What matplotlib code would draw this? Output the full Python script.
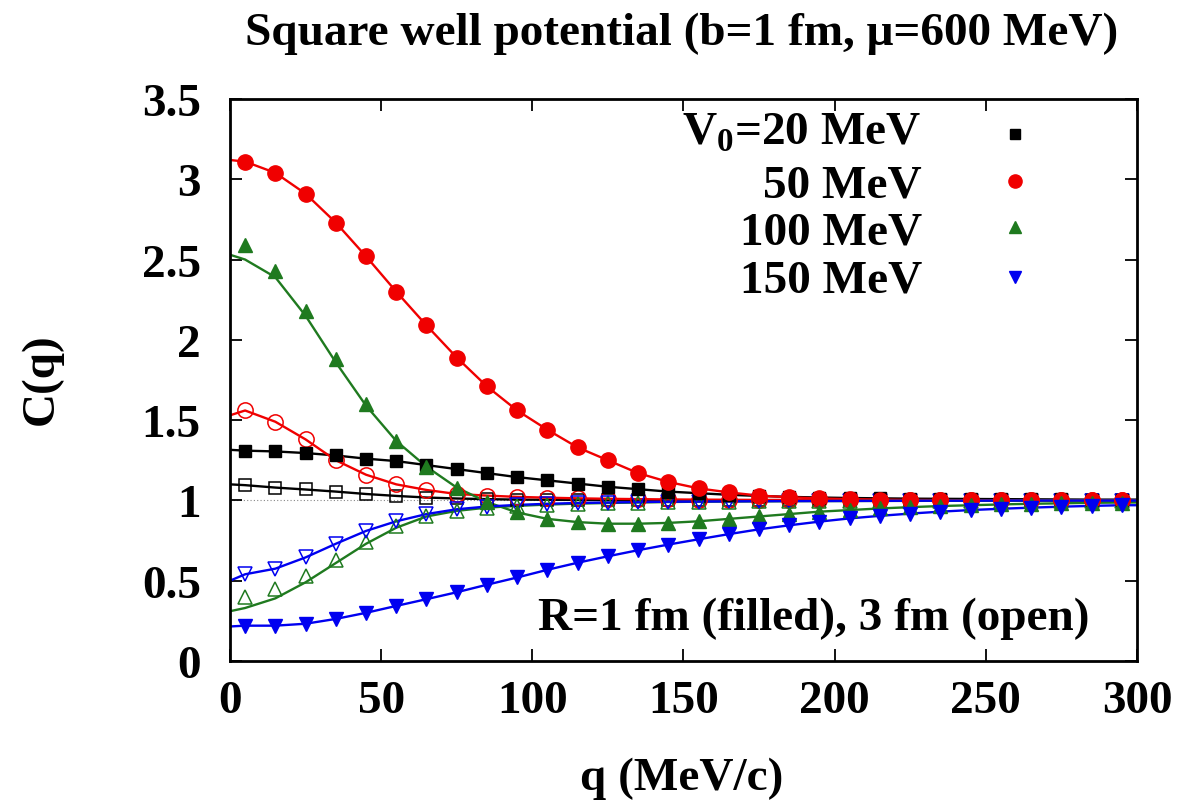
import matplotlib
matplotlib.use("Agg")
import matplotlib.pyplot as plt

# momentum grid of the computed points (MeV/c)
q = [5, 15, 25, 35, 45, 55, 65, 75, 85, 95,
     105, 115, 125, 135, 145, 155, 165, 175, 185, 195,
     205, 215, 225, 235, 245, 255, 265, 275, 285, 295]

# R = 1 fm (filled symbols)
c20_r1 = [1.31, 1.305, 1.295, 1.28, 1.26, 1.245, 1.22, 1.195, 1.17, 1.145,
          1.125, 1.105, 1.085, 1.07, 1.055, 1.045, 1.035, 1.028, 1.022, 1.018,
          1.015, 1.013, 1.011, 1.01, 1.009, 1.008, 1.007, 1.006, 1.005, 1.005]
c50_r1 = [3.11, 3.04, 2.91, 2.73, 2.52, 2.30, 2.09, 1.89, 1.71, 1.56,
          1.44, 1.33, 1.25, 1.17, 1.115, 1.075, 1.05, 1.03, 1.02, 1.012,
          1.008, 1.005, 1.003, 1.002, 1.001, 1.001, 1.0, 1.0, 1.0, 1.0]
c100_r1 = [2.59, 2.43, 2.18, 1.88, 1.60, 1.37, 1.21, 1.08, 0.99, 0.925,
           0.885, 0.865, 0.855, 0.855, 0.86, 0.87, 0.885, 0.90, 0.915, 0.93,
           0.94, 0.95, 0.958, 0.965, 0.97, 0.975, 0.979, 0.982, 0.985, 0.987]
c150_r1 = [0.22, 0.22, 0.232, 0.262, 0.30, 0.343, 0.385, 0.428, 0.475, 0.52,
           0.568, 0.612, 0.652, 0.69, 0.725, 0.758, 0.79, 0.82, 0.845, 0.868,
           0.888, 0.904, 0.918, 0.93, 0.94, 0.948, 0.955, 0.961, 0.966, 0.97]

# R = 3 fm (open symbols)
c20_r3 = [1.095, 1.08, 1.068, 1.055, 1.04, 1.028, 1.018, 1.012, 1.008, 1.005,
          1.004, 1.003, 1.002, 1.002, 1.001, 1.001, 1.001, 1.0, 1.0, 1.0,
          1.0, 1.0, 1.0, 1.0, 1.0, 1.0, 1.0, 1.0, 1.0, 1.0]
c50_r3 = [1.56, 1.49, 1.38, 1.25, 1.16, 1.10, 1.065, 1.04, 1.03, 1.022,
          1.017, 1.013, 1.01, 1.008, 1.006, 1.005, 1.004, 1.003, 1.003, 1.002,
          1.002, 1.002, 1.001, 1.001, 1.001, 1.001, 1.0, 1.0, 1.0, 1.0]
c100_r3 = [0.40, 0.45, 0.53, 0.63, 0.74, 0.84, 0.90, 0.935, 0.955, 0.966,
           0.974, 0.98, 0.984, 0.987, 0.99, 0.992, 0.993, 0.994, 0.995, 0.996,
           0.996, 0.997, 0.997, 0.998, 0.998, 0.998, 0.999, 0.999, 0.999, 0.999]
c150_r3 = [0.54, 0.575, 0.645, 0.73, 0.81, 0.87, 0.915, 0.945, 0.962, 0.972,
           0.979, 0.984, 0.987, 0.99, 0.992, 0.993, 0.994, 0.995, 0.996, 0.996,
           0.997, 0.997, 0.998, 0.998, 0.998, 0.999, 0.999, 0.999, 0.999, 0.999]

# value of the theory curves at q = 0
start_r1 = {"20": 1.315, "50": 3.12, "100": 2.53, "150": 0.215}
start_r3 = {"20": 1.10, "50": 1.53, "100": 0.31, "150": 0.50}

# low-q part of the green curves, which runs a bit below the points
q_head = [5, 15, 25, 35, 45, 55]
c100_r1_head = [2.50, 2.39, 2.15, 1.86, 1.59, 1.37]
c100_r3_head = [0.33, 0.39, 0.49, 0.61, 0.73, 0.83]

legend_labels = ["V$_\\mathbf{0}$=20 MeV", "50 MeV", "100 MeV", "150 MeV"]
colors = ["black", "#f00000", "#1f7a1f", "#0000f0"]
markers = ["s", "o", "^", "v"]
msizes = [8, 11, 9.5, 9.5]

FONT = "Liberation Serif"
FS = 34
plt.rcParams["font.family"] = [FONT, "DejaVu Serif"]
plt.rcParams["font.weight"] = "bold"
plt.rcParams["mathtext.fontset"] = "custom"
plt.rcParams["mathtext.bf"] = FONT + ":bold"
plt.rcParams["mathtext.rm"] = FONT + ":bold"

fig = plt.figure(figsize=(11.91, 8.03), dpi=100)
ax = fig.add_axes([0.1931, 0.1756, 0.7615, 0.6999])

ax.axhline(1.0, color="#888888", lw=0.8, ls=(0, (1, 2)), zorder=1)

series = [
    ("20", c20_r1, c20_r3),
    ("50", c50_r1, c50_r3),
    ("100", c100_r1, c100_r3),
    ("150", c150_r1, c150_r3),
]

for i, (key, filled, opened) in enumerate(series):
    col = colors[i]

    # theory curves
    if key == "100":
        n = len(q_head)
        line_r1 = [start_r1[key]] + c100_r1_head + filled[n:] + [filled[-1]]
        line_r3 = [start_r3[key]] + c100_r3_head + opened[n:] + [opened[-1]]
    else:
        line_r1 = [start_r1[key]] + filled + [filled[-1]]
        line_r3 = [start_r3[key]] + opened + [opened[-1]]
    q_line = [0] + q + [300]

    ax.plot(q_line, line_r3, color=col, lw=1.7, zorder=2)
    ax.plot(q_line, line_r1, color=col, lw=1.7, zorder=2)

    ax.plot(q, opened, ls="none", marker=markers[i], ms=msizes[i],
            mfc="none", mec=col, mew=1.1, zorder=3)
    ax.plot(q, filled, ls="none", marker=markers[i], ms=msizes[i],
            color=col, zorder=4)

ax.set_xlim(0, 300)
ax.set_ylim(0, 3.5)
ax.set_xticks([0, 50, 100, 150, 200, 250, 300])
ax.set_yticks([0, 0.5, 1, 1.5, 2, 2.5, 3, 3.5])
ax.set_yticklabels(["0", "0.5", "1", "1.5", "2", "2.5", "3", "3.5"])

ax.tick_params(direction="in", length=8.5, width=1.3, top=True, right=True,
               labelsize=FS)
ax.tick_params(axis="x", pad=14)
ax.tick_params(axis="y", pad=21)
for lab in ax.get_xticklabels() + ax.get_yticklabels():
    lab.set_fontweight("bold")
for sp in ax.spines.values():
    sp.set_linewidth(2)

fig.text(0.5726, 0.0162, "q (MeV/c)", ha="center", va="baseline",
         fontsize=FS, fontweight="bold")
fig.text(0.035, 0.528, "C(q)", ha="center", va="center", rotation=90,
         fontsize=FS, fontweight="bold")
fig.text(0.5726, 0.944, "Square well potential (b=1 fm, \u03bc=600 MeV)",
         ha="center", va="baseline", fontsize=FS, fontweight="bold")

# gnuplot style key: right aligned text, symbol to the right
key_base = [0.920, 0.827, 0.742, 0.657]
key_mark = [0.938, 0.854, 0.772, 0.683]
for i, lab in enumerate(legend_labels):
    ax.text(0.763, key_base[i], lab, transform=ax.transAxes, ha="right",
            va="baseline", fontsize=FS, fontweight="bold")
    ax.plot([0.8655], [key_mark[i]], transform=ax.transAxes, ls="none",
            marker=markers[i], ms=msizes[i] - 1.5, color=colors[i],
            clip_on=False)

ax.text(0.948, 0.057, "R=1 fm (filled), 3 fm (open)", transform=ax.transAxes,
        ha="right", va="baseline", fontsize=FS, fontweight="bold")

fig.savefig("out.png", dpi=100)
